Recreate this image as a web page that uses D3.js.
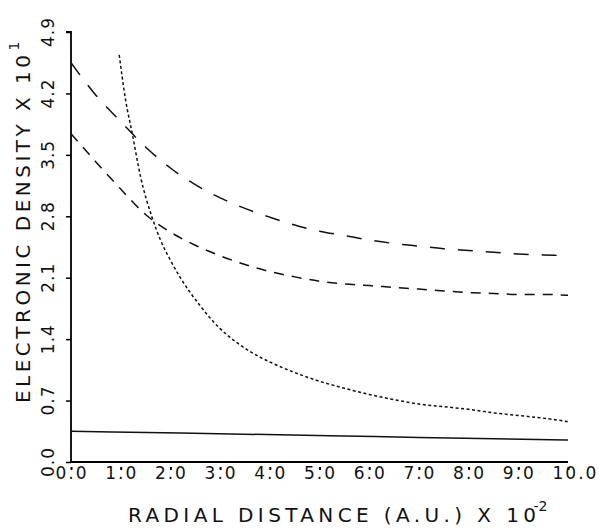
<!DOCTYPE html>
<html>
<head>
<meta charset="utf-8">
<script src="https://cdn.jsdelivr.net/npm/d3@7"></script>
<style>
  body { margin: 0; background: #fff; }
  svg { display: block; }
  .tick-label { font-family: "DejaVu Sans", sans-serif; font-size: 17px; fill: #111; }
  .title { font-family: "DejaVu Sans", sans-serif; font-size: 20px; fill: #111; }
</style>
</head>
<body>
<svg id="chart" width="599" height="531"></svg>
<script>
// tick values and labels
var xTickValues = [0, 1, 2, 3, 4, 5, 6, 7, 8, 9, 10];
var xTickLabels = ["0.0", "1.0", "2.0", "3.0", "4.0", "5.0", "6.0", "7.0", "8.0", "9.0", "10.0"];
var yTickValues = [0, 0.7, 1.4, 2.1, 2.8, 3.5, 4.2, 4.9];
var yTickLabels = ["0.0", "0.7", "1.4", "2.1", "2.8", "3.5", "4.2", "4.9"];

// curves: [radial distance, density]
var upperDashed = [[0, 4.55], [0.5, 4.18], [1.0, 3.88], [1.5, 3.59], [2.0, 3.35], [2.5, 3.16], [3.0, 3.01],
    [3.5, 2.89], [4.0, 2.79], [4.5, 2.70], [5.0, 2.63], [5.5, 2.58], [6.0, 2.53], [6.5, 2.49], [7.0, 2.46],
    [7.5, 2.43], [8.0, 2.41], [8.5, 2.39], [9.0, 2.37], [9.5, 2.36], [10, 2.35]];
var lowerDashed = [[0, 3.74], [0.5, 3.42], [1.0, 3.11], [1.5, 2.82], [2.0, 2.62], [2.5, 2.47], [3.0, 2.35],
    [3.5, 2.25], [4.0, 2.17], [4.5, 2.11], [5.0, 2.06], [5.5, 2.03], [6.0, 2.01], [6.5, 1.99], [7.0, 1.97],
    [7.5, 1.95], [8.0, 1.93], [8.5, 1.92], [9.0, 1.91], [9.5, 1.91], [10, 1.90]];
var dotted = [[0.97, 4.64], [1.1, 4.12], [1.23, 3.75], [1.4, 3.25], [1.63, 2.79], [1.8, 2.53], [2.0, 2.30],
    [2.2, 2.10], [2.4, 1.93], [2.6, 1.78], [2.8, 1.64], [3.0, 1.52], [3.2, 1.42], [3.6, 1.26], [4.0, 1.14],
    [4.5, 1.02], [5.0, 0.92], [5.5, 0.84], [6.0, 0.77], [6.5, 0.71], [7.0, 0.66], [7.5, 0.63], [8.0, 0.60],
    [8.5, 0.56], [9.0, 0.53], [9.5, 0.50], [10, 0.46]];
var solid = [[0, 0.35], [2.2, 0.33], [5.2, 0.30], [7.0, 0.28], [10, 0.25]];

var svg = d3.select("#chart");

var plotLeft = 71, plotRight = 568, plotTop = 32, plotBottom = 462;

var x = d3.scaleLinear().domain([0, 10]).range([plotLeft, plotRight]);
var y = d3.scaleLinear().domain([0, 4.9]).range([plotBottom, plotTop]);

// y axis: ticks outward, labels rotated
var yAxis = d3.axisLeft(y).tickValues(yTickValues).tickSize(5).tickFormat("");
var yg = svg.append("g").attr("transform", `translate(${plotLeft},0)`).call(yAxis);
yg.select(".domain").attr("stroke-width", 1.8).attr("d", `M-5,${plotTop}H0V${plotBottom}`);
yg.selectAll(".tick line").attr("stroke-width", 1.5);

svg.append("g").selectAll("text").data(yTickValues).enter().append("text")
    .attr("class", "tick-label")
    .attr("transform", d => `translate(${plotLeft - 17},${y(d)}) rotate(-90)`)
    .attr("text-anchor", "middle")
    .attr("letter-spacing", "1px")
    .text((d, i) => yTickLabels[i]);

// x axis: short stubs just under the axis; labels left-justified so the point sits under the stub
var xAxis = d3.axisBottom(x).tickValues(xTickValues).tickSize(9).tickFormat("");
var xg = svg.append("g").attr("transform", `translate(0,${plotBottom})`).call(xAxis);
xg.select(".domain").attr("stroke-width", 1.8).attr("d", `M${plotLeft},0H${plotRight}`);
xg.selectAll(".tick line").attr("stroke-width", 2).attr("stroke-dasharray", "0,5,3,20");

svg.append("g").selectAll("text").data(xTickValues).enter().append("text")
    .attr("class", "tick-label")
    .attr("x", d => x(d) - 15.5)
    .attr("y", plotBottom + 17)
    .attr("letter-spacing", "2px")
    .text((d, i) => xTickLabels[i]);

// curves
var line = d3.line().x(d => x(d[0])).y(d => y(d[1])).curve(d3.curveMonotoneX);
var curves = svg.append("g").attr("fill", "none").attr("stroke", "#111");

curves.append("path").datum(upperDashed).attr("d", line)
    .attr("stroke-width", 1.5).attr("stroke-dasharray", "15,13");
curves.append("path").datum(lowerDashed).attr("d", line)
    .attr("stroke-width", 1.5).attr("stroke-dasharray", "10,8");
curves.append("path").datum(dotted).attr("d", line)
    .attr("stroke-width", 1.5).attr("stroke-dasharray", "3,2.5");
curves.append("path").datum(solid).attr("d", line)
    .attr("stroke-width", 1.5);

// axis titles
var xTitle = svg.append("text").attr("class", "title")
    .attr("x", 128).attr("y", 522);
xTitle.append("tspan").attr("textLength", 408).attr("lengthAdjust", "spacing")
    .text("RADIAL DISTANCE (A.U.) X 10");
xTitle.append("tspan").attr("dx", -7).attr("dy", -11).attr("font-size", "14px").text("-2");

var yTitle = svg.append("text").attr("class", "title")
    .attr("transform", "translate(30,403) rotate(-90)");
yTitle.append("tspan").attr("textLength", 348).attr("lengthAdjust", "spacing")
    .text("ELECTRONIC DENSITY X 10");
yTitle.append("tspan").attr("dx", 1).attr("dy", -11).attr("font-size", "14px").text("1");
</script>
</body>
</html>
